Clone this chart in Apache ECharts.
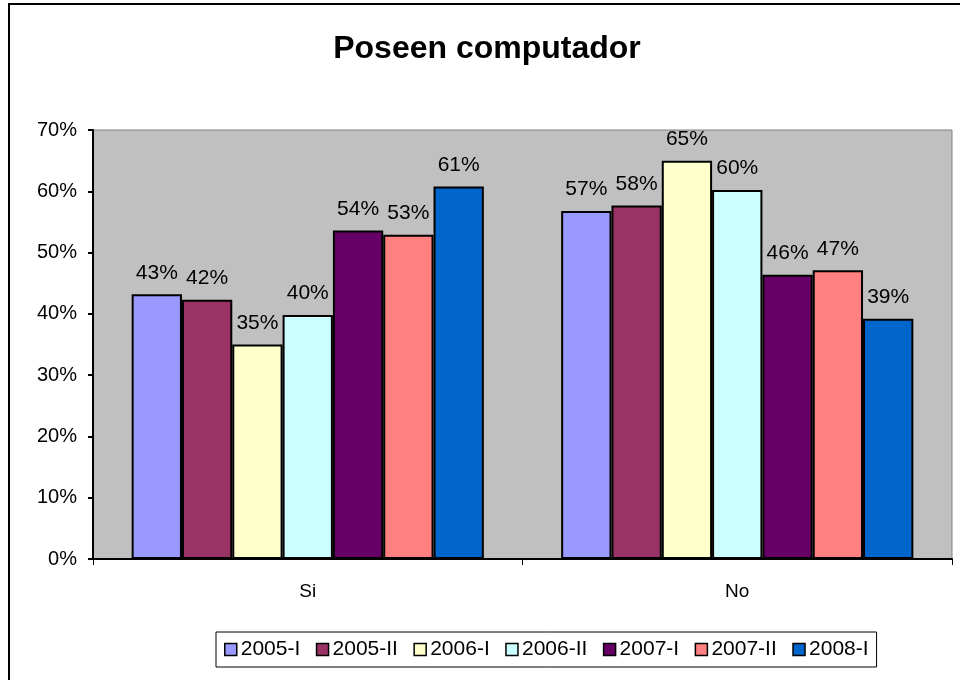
<!DOCTYPE html>
<html>
<head>
<meta charset="utf-8">
<script src="https://cdn.jsdelivr.net/npm/echarts@6/dist/echarts.min.js"></script>
<style>
  html, body { margin: 0; padding: 0; background: #fff; }
  #chart { width: 960px; height: 680px; }
</style>
</head>
<body>
<div id="chart"></div>
<script>
// categories and periods
const categories = ['Si', 'No']
const periods = ['2005-I', '2005-II', '2006-I', '2006-II', '2007-I', '2007-II', '2008-I']
const colors = ['#9999FF', '#993366', '#FFFFCC', '#CCFFFF', '#660066', '#FF8080', '#0066CC']

// percent values per period: [Si, No]
const v2005I = [43.2, 56.8]
const v2005II = [42.3, 57.7]
const v2006I = [35.0, 65.0]
const v2006II = [39.8, 60.2]
const v2007I = [53.6, 46.4]
const v2007II = [52.9, 47.1]
const v2008I = [60.8, 39.2]
const values = [v2005I, v2005II, v2006I, v2006II, v2007I, v2007II, v2008I]

const font = 'Arial, "Liberation Sans", sans-serif'

let myChart = echarts.init(document.getElementById('chart'))

let series = periods.map(function(name, i) {
  return {
    name: name,
    type: 'bar',
    data: values[i],
    barGap: '0%',
    barCategoryGap: '18%',
    itemStyle: {
      color: colors[i],
      borderColor: '#000',
      borderWidth: 2
    },
    label: {
      show: true,
      position: 'top',
      distance: 11,
      color: '#000',
      fontFamily: font,
      fontSize: 21,
      formatter: function(p) {
        return Math.round(p.value) + '%'
      }
    },
    emphasis: { disabled: true }
  }
})

let option = {
  animation: false,
  backgroundColor: '#fff',
  title: {
    text: 'Poseen computador',
    left: 482,
    textAlign: 'center',
    top: 28,
    textStyle: {
      fontFamily: font,
      fontWeight: 'bold',
      fontSize: 32,
      color: '#000'
    }
  },
  graphic: [
    {
      type: 'rect',
      shape: { x: 9, y: 4, width: 1000, height: 1000 },
      style: { fill: 'none', stroke: '#000', lineWidth: 2 },
      silent: true
    }
  ],
  legend: {
    data: periods,
    left: 216,
    top: 632,
    icon: 'rect',
    itemWidth: 12,
    itemHeight: 12,
    itemGap: 15.5,
    padding: [7, 8, 7, 8],
    borderColor: '#000',
    borderWidth: 1,
    itemStyle: { borderColor: '#000', borderWidth: 1.5 },
    textStyle: { fontFamily: font, fontSize: 21, color: '#000', padding: [0, 0, 0, -1] }
  },
  grid: {
    left: 93,
    right: 8,
    top: 130,
    bottom: 121,
    show: true,
    backgroundColor: '#C0C0C0',
    borderColor: '#808080',
    borderWidth: 1
  },
  xAxis: {
    type: 'category',
    data: categories,
    axisLine: { lineStyle: { color: '#000', width: 2 } },
    axisTick: { show: true, length: 6, lineStyle: { color: '#000', width: 1 } },
    axisLabel: { margin: 23, color: '#000', fontFamily: font, fontSize: 19 },
    splitLine: { show: false }
  },
  yAxis: {
    type: 'value',
    min: 0,
    max: 70,
    interval: 10,
    axisLine: { show: true, lineStyle: { color: '#000', width: 2 } },
    axisTick: { show: true, length: 5, lineStyle: { color: '#000', width: 2 } },
    axisLabel: { margin: 16, color: '#000', fontFamily: font, fontSize: 20, formatter: '{value}%' },
    splitLine: { show: false }
  },
  series: series
}

myChart.setOption(option)
</script>
</body>
</html>
